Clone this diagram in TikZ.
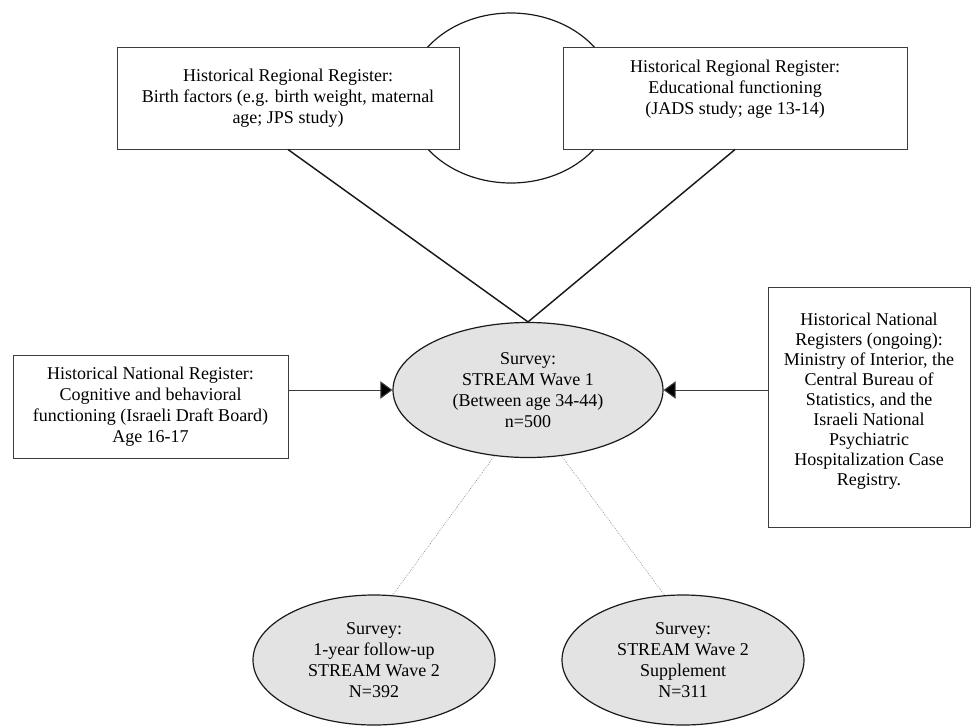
\documentclass[tikz,border=0pt]{standalone}
\usepackage{fontspec}
\setmainfont{Liberation Serif}
\usetikzlibrary{positioning, arrows.meta, shapes.geometric}
\definecolor{Dark}{HTML}{1A1A1A}
\definecolor{Frame}{HTML}{3C3C3C}
\definecolor{Shade}{HTML}{E3E3E3}
\tikzset{
    regbox/.style={rectangle, draw=Frame, line width=0.75pt, fill=white, align=center, inner sep=0pt, font=\fontsize{13.5}{15.75}\selectfont},
    surveynode/.style={ellipse, draw=Dark, line width=0.9pt, fill=Shade, align=center, inner sep=0pt, font=\fontsize{13.5}{15.75}\selectfont},
    link/.style={line width=1.1pt, color=Dark},
    arrow/.style={-{Triangle[length=9pt, width=13pt, fill=black]}, line width=0.75pt, color=Frame},
    dotlink/.style={densely dotted, line width=0.5pt, color=gray},
    ring/.style={ellipse, draw=Dark, line width=0.9pt, inner sep=0pt},
}

\begin{document}
\begin{tikzpicture}[x=0.75pt, y=-0.75pt]
    \useasboundingbox (0,0) rectangle (973,725);

    % Anello tra i due registri regionali (dietro i box)
    \node[ring, minimum width=156pt, minimum height=127.5pt] (corr) at (511, 98) {};

    % Registri regionali
    \node[regbox, minimum width=256.5pt, minimum height=76.5pt] (birth) at (288, 98)
        {Historical Regional Register:\\ Birth factors (e.g. birth weight, maternal\\ age; JPS study)};
    \node[regbox, minimum width=258pt, minimum height=76.5pt] (edu) at (735, 98)
        {Historical Regional Register:\\ Educational functioning\\ (JADS study; age 13-14)\\ \mbox{}};

    % Survey centrale
    \node[surveynode, minimum width=202.5pt, minimum height=101.25pt] (wave1) at (528, 390)
        {Survey:\\ STREAM Wave 1\\ (Between age 34-44)\\ n=500};

    % Registri nazionali
    \node[regbox, minimum width=206.25pt, minimum height=77.25pt] (draft) at (150.5, 406.5)
        {Historical National Register:\\ Cognitive and behavioral\\ functioning (Israeli Draft Board)\\ Age 16-17};
    \node[regbox, minimum width=151.5pt, minimum height=180pt, font=\fontsize{13.5}{15}\selectfont] (national) at (869, 407)
        {Historical National\\ Registers (ongoing):\\ Ministry of Interior, the\\ Central Bureau of\\ Statistics, and the\\ Israeli National\\ Psychiatric\\ Hospitalization Case\\ Registry.\\[-4pt] \mbox{}};

    % Follow-up
    \node[surveynode, minimum width=181.5pt, minimum height=97.5pt] (followup) at (374, 660)
        {Survey:\\ 1-year follow-up\\ STREAM Wave 2\\ N=392};
    \node[surveynode, minimum width=181.5pt, minimum height=97.5pt] (supplement) at (683, 660)
        {Survey:\\ STREAM Wave 2\\ Supplement\\ N=311};

    % Collegamenti
    \draw[link] (birth.south) -- (wave1.north);
    \draw[link] (edu.south) -- (wave1.north);
    \draw[arrow] (draft.east |- wave1.west) -- (wave1.west);
    \draw[arrow] (national.west |- wave1.east) -- (wave1.east);
    \draw[dotlink] (wave1.243) -- (followup.74);
    \draw[dotlink] (wave1.297) -- (supplement.106);
\end{tikzpicture}
\end{document}
